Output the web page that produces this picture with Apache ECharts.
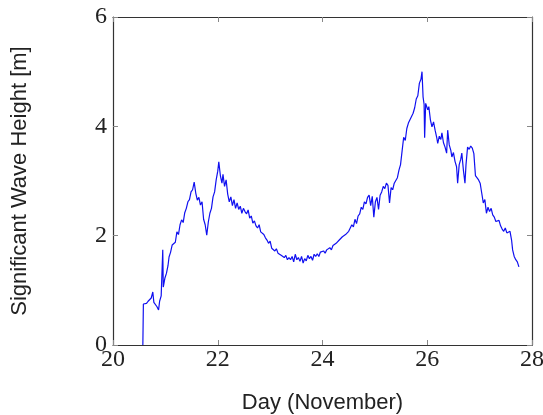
<!DOCTYPE html>
<html>
<head>
<meta charset="utf-8">
<script src="https://cdn.jsdelivr.net/npm/echarts@6/dist/echarts.min.js"></script>
<style>html,body{margin:0;padding:0;background:#fff;}#c{width:543px;height:415px;}</style>
</head>
<body>
<div id="c"></div>
<script>
const xTicks = [20, 22, 24, 26, 28];
const yTicks = [0, 2, 4, 6];
const days = [20.57,20.58,20.61,20.64,20.67,20.70,20.73,20.76,20.78,20.81,20.84,20.87,20.89,20.92,20.95,20.96,20.99,21.02,21.05,21.07,21.10,21.13,21.16,21.19,21.22,21.25,21.28,21.31,21.34,21.37,21.40,21.43,21.46,21.49,21.52,21.55,21.58,21.61,21.64,21.67,21.70,21.73,21.76,21.79,21.82,21.85,21.88,21.91,21.94,21.97,22.00,22.02,22.05,22.08,22.10,22.13,22.16,22.19,22.22,22.25,22.28,22.31,22.34,22.37,22.40,22.43,22.46,22.49,22.52,22.55,22.58,22.61,22.64,22.67,22.70,22.73,22.76,22.79,22.82,22.85,22.88,22.91,22.94,22.97,23.00,23.03,23.06,23.09,23.12,23.15,23.18,23.21,23.24,23.27,23.30,23.33,23.36,23.39,23.42,23.45,23.48,23.51,23.54,23.57,23.60,23.63,23.66,23.69,23.72,23.75,23.78,23.81,23.84,23.87,23.90,23.93,23.96,23.99,24.02,24.05,24.08,24.11,24.14,24.17,24.20,24.23,24.26,24.29,24.32,24.35,24.38,24.41,24.44,24.47,24.50,24.53,24.56,24.59,24.62,24.65,24.68,24.71,24.74,24.77,24.80,24.83,24.86,24.89,24.92,24.95,24.98,25.01,25.04,25.07,25.10,25.13,25.16,25.19,25.22,25.25,25.28,25.31,25.34,25.37,25.40,25.43,25.46,25.49,25.52,25.55,25.58,25.61,25.64,25.67,25.70,25.73,25.76,25.79,25.82,25.85,25.88,25.90,25.92,25.94,25.95,25.97,25.99,26.01,26.03,26.06,26.09,26.12,26.15,26.18,26.20,26.23,26.26,26.28,26.31,26.34,26.37,26.39,26.42,26.45,26.47,26.50,26.53,26.56,26.58,26.61,26.64,26.66,26.69,26.72,26.74,26.77,26.80,26.83,26.86,26.89,26.92,26.95,26.98,27.01,27.04,27.07,27.10,27.13,27.16,27.19,27.22,27.25,27.28,27.31,27.34,27.37,27.40,27.43,27.46,27.49,27.52,27.55,27.58,27.61,27.63,27.66,27.69,27.72,27.75];
const waveHeight = [0,0.75,0.78,0.76,0.80,0.78,0.86,0.97,0.78,0.76,0.70,0.64,0.80,0.90,1.74,1.06,1.22,1.31,1.45,1.61,1.70,1.83,1.85,1.88,2.07,2.02,2.20,2.29,2.24,2.42,2.50,2.62,2.66,2.80,2.84,2.98,2.78,2.65,2.70,2.56,2.62,2.30,2.20,2.01,2.25,2.41,2.50,2.71,2.80,3.02,3.18,3.35,3.10,2.96,3.12,2.90,3.02,2.76,2.62,2.71,2.55,2.66,2.50,2.60,2.48,2.54,2.41,2.50,2.44,2.40,2.47,2.32,2.36,2.23,2.27,2.18,2.14,2.20,2.07,2.10,2.02,1.96,1.92,1.86,1.90,1.77,1.80,1.72,1.76,1.68,1.70,1.64,1.66,1.60,1.64,1.56,1.60,1.56,1.62,1.52,1.66,1.56,1.60,1.53,1.62,1.50,1.58,1.54,1.64,1.58,1.62,1.55,1.66,1.62,1.67,1.62,1.70,1.68,1.72,1.68,1.74,1.72,1.78,1.74,1.82,1.80,1.86,1.83,1.92,1.90,1.98,1.96,2.02,2.00,2.08,2.05,2.20,2.16,2.30,2.22,2.36,2.40,2.52,2.48,2.62,2.58,2.70,2.74,2.55,2.72,2.34,2.62,2.70,2.48,2.74,2.80,2.90,2.86,2.96,2.92,2.60,2.88,2.84,2.96,2.94,3.06,3.20,3.30,3.55,3.80,3.74,3.96,4.06,4.04,4.18,4.24,4.34,4.50,4.56,4.79,4.86,5.00,4.54,4.40,3.79,4.42,4.43,4.30,4.36,4.12,3.99,4.08,3.93,3.80,3.69,3.82,3.76,3.88,3.70,3.62,3.51,3.93,3.66,3.56,3.44,3.52,3.36,3.26,2.96,3.30,3.40,3.51,3.20,2.96,3.30,3.62,3.58,3.64,3.60,3.50,3.10,3.07,3.02,2.96,2.78,2.60,2.66,2.41,2.52,2.44,2.50,2.38,2.34,2.26,2.23,2.28,2.18,2.12,2.08,2.14,2.05,2.02,2.08,1.92,1.74,1.62,1.56,1.52,1.43];

const chart = echarts.init(document.getElementById('c'), null, {renderer: 'canvas'});
const tickFont = {fontFamily: 'Liberation Serif', fontSize: 24, color: '#222'};
const tickStyle = {show: true, inside: true, length: 5, lineStyle: {color: '#888', width: 1}};
const lineSty = {show: true, onZero: false, lineStyle: {color: '#333', width: 1.2}};
const nameFont = {fontFamily: 'Liberation Sans', fontSize: 22, color: '#222'};
chart.setOption({
  animation: false,
  backgroundColor: '#fff',
  grid: {left: 113, right: 11, top: 17, bottom: 70, show: false, outerBoundsMode: 'none', containLabel: false},
  xAxis: [{
    type: 'value', min: xTicks[0], max: xTicks[xTicks.length - 1], interval: 2,
    position: 'bottom',
    name: 'Day (November)', nameLocation: 'middle', nameGap: 47,
    nameTextStyle: nameFont,
    axisLine: lineSty, axisTick: tickStyle, splitLine: {show: false},
    axisLabel: Object.assign({margin: 3}, tickFont)
  }, {
    type: 'value', min: xTicks[0], max: xTicks[xTicks.length - 1], interval: 2,
    position: 'top', axisLine: lineSty, axisTick: tickStyle,
    axisLabel: {show: false}, splitLine: {show: false}
  }],
  yAxis: [{
    type: 'value', min: yTicks[0], max: yTicks[yTicks.length - 1], interval: 2,
    position: 'left',
    name: 'Significant Wave Height [m]', nameLocation: 'middle', nameGap: 82,
    nameTextStyle: nameFont,
    axisLine: lineSty, axisTick: tickStyle, splitLine: {show: false},
    axisLabel: Object.assign({margin: 6}, tickFont)
  }, {
    type: 'value', min: yTicks[0], max: yTicks[yTicks.length - 1], interval: 2,
    position: 'right', axisLine: lineSty, axisTick: tickStyle,
    axisLabel: {show: false}, splitLine: {show: false}
  }],
  series: [{
    type: 'line',
    xAxisIndex: 0, yAxisIndex: 0,
    data: days.map((d, i) => [d, waveHeight[i]]),
    showSymbol: false, symbol: 'none',
    lineStyle: {color: '#1010f0', width: 1.2},
    z: 1
  }]
});
</script>
</body>
</html>
